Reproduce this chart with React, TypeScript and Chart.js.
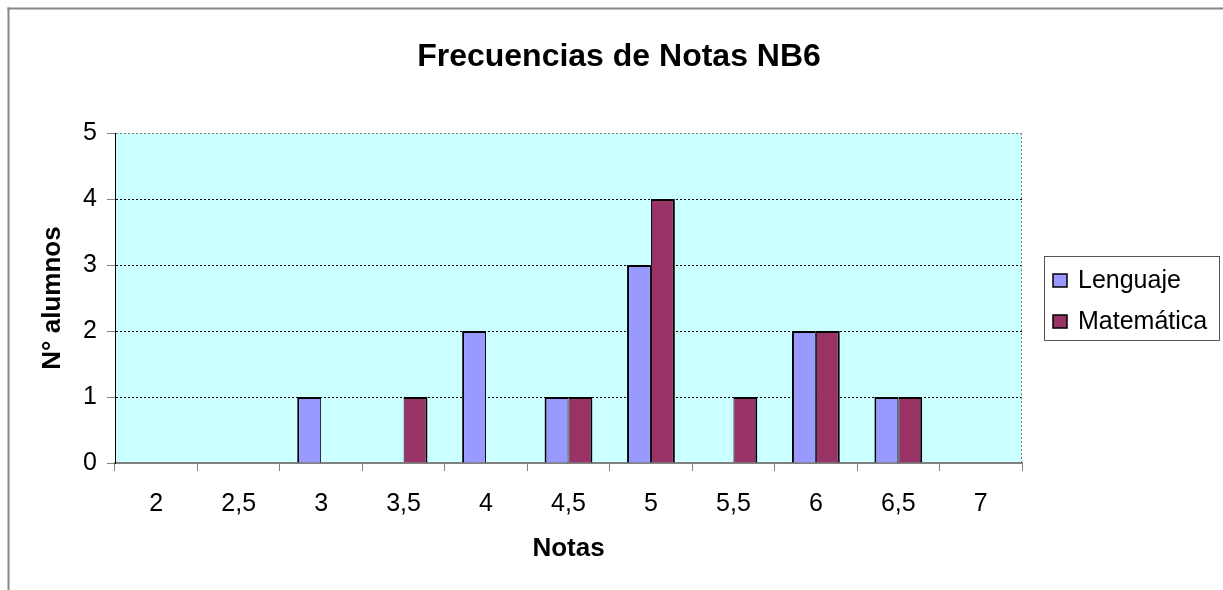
import React, { useEffect, useRef } from "react";
import { Chart, registerables } from "chart.js";

Chart.register(...registerables);

const categories = ["2", "2,5", "3", "3,5", "4", "4,5", "5", "5,5", "6", "6,5", "7"];
const lenguaje = [0, 0, 1, 0, 2, 1, 3, 0, 2, 1, 0];
const matematica = [0, 0, 0, 1, 0, 1, 4, 1, 2, 1, 0];
const seriesNames = ["Lenguaje", "Matemática"];
const seriesColors = ["#9999FF", "#993366"];
const yMin = 0;
const yMax = 5;
const yStep = 1;
const chartTitle = "Frecuencias de Notas NB6";
const xTitle = "Notas";
const yTitle = "N° alumnos";

const FONT = "'Liberation Sans', Arial, Helvetica, sans-serif";
const W = 1223;
const H = 590;

const decorPlugin = {
  id: "decor",
  beforeDraw(chart: any) {
    const { ctx, chartArea } = chart;
    ctx.save();
    ctx.fillStyle = "#ffffff";
    ctx.fillRect(0, 0, chart.width, chart.height);
    ctx.fillStyle = "#888888";
    ctx.fillRect(7.5, 7.5, chart.width - 7.5, 2);
    ctx.fillRect(7.5, 7.5, 2, chart.height - 7.5);
    ctx.fillStyle = "#CCFFFF";
    ctx.fillRect(chartArea.left, chartArea.top, chartArea.right - chartArea.left, chartArea.bottom - chartArea.top);
    ctx.restore();
  },
  beforeDatasetsDraw(chart: any) {
    const { ctx, chartArea } = chart;
    ctx.save();
    ctx.strokeStyle = "#808080";
    ctx.lineWidth = 1;
    ctx.setLineDash([2, 2]);
    ctx.beginPath();
    ctx.moveTo(Math.round(chartArea.right) - 0.5, chartArea.top);
    ctx.lineTo(Math.round(chartArea.right) - 0.5, chartArea.bottom);
    ctx.stroke();
    ctx.restore();
  },
  afterDraw(chart: any) {
    const { ctx } = chart;
    const bx = 1044, by = 256, bw = 175, bh = 84;
    ctx.save();
    ctx.fillStyle = "#ffffff";
    ctx.fillRect(bx, by, bw, bh);
    ctx.strokeStyle = "#555555";
    ctx.lineWidth = 1;
    ctx.strokeRect(bx + 0.5, by + 0.5, bw, bh);
    chart.data.datasets.forEach((ds: any, i: number) => {
      const cy = 281 + i * 41;
      ctx.fillStyle = ds.backgroundColor;
      ctx.fillRect(1053, cy - 7, 14, 13);
      ctx.strokeStyle = "#000000";
      ctx.lineWidth = 1.5;
      ctx.strokeRect(1053, cy - 7, 14, 13);
      ctx.fillStyle = "#000000";
      ctx.font = `25px ${FONT}`;
      ctx.textBaseline = "middle";
      ctx.textAlign = "left";
      ctx.fillText(ds.label, 1078, cy);
    });
    ctx.restore();
  },
};

export default function App() {
  const ref = useRef<HTMLCanvasElement | null>(null);

  useEffect(() => {
    if (!ref.current) return;
    const chart = new Chart(ref.current, {
      type: "bar",
      data: {
        labels: categories,
        datasets: [
          {
            label: seriesNames[0],
            data: lenguaje,
            backgroundColor: seriesColors[0],
            borderColor: "#000000",
            borderWidth: { left: 2, right: 1, top: 2, bottom: 0 },
            categoryPercentage: 0.58,
            barPercentage: 1,
          },
          {
            label: seriesNames[1],
            data: matematica,
            backgroundColor: seriesColors[1],
            borderColor: "#000000",
            borderWidth: { left: 1, right: 2, top: 2, bottom: 0 },
            categoryPercentage: 0.58,
            barPercentage: 1,
          },
        ],
      },
      options: {
        responsive: false,
        animation: false,
        devicePixelRatio: 1,
        layout: { padding: { left: 15, right: 0, top: 0, bottom: 0 } },
        plugins: {
          legend: { display: false },
          tooltip: { enabled: false },
          title: {
            display: true,
            text: chartTitle,
            color: "#000000",
            font: { family: FONT, size: 32, weight: "bold" },
            padding: { top: 37.8, bottom: 56.8 },
          },
        },
        scales: {
          x: {
            grid: {
              offset: true,
              drawOnChartArea: false,
              drawTicks: true,
              tickLength: 8,
              tickColor: "#808080",
              tickWidth: 1,
            },
            border: { display: true, color: "#808080", width: 2 },
            ticks: {
              color: "#000000",
              font: { family: FONT, size: 25 },
              padding: 18,
              maxRotation: 0,
              autoSkip: false,
            },
            title: {
              display: true,
              text: xTitle,
              color: "#000000",
              font: { family: FONT, size: 26, weight: "bold" },
              padding: { top: 0, bottom: 26 },
            },
            afterFit: (s: any) => {
              s.height = 127;
            },
          },
          y: {
            min: yMin,
            max: yMax,
            grid: {
              color: (c: any) => (c.tick && c.tick.value === yMax ? "#808080" : "#000000"),
              lineWidth: 1,
              drawTicks: true,
              tickLength: 8,
              tickColor: "#808080",
              tickWidth: 1,
            },
            border: { display: true, color: "#000000", width: 1, dash: [2, 2] },
            ticks: {
              stepSize: yStep,
              color: "#000000",
              font: { family: FONT, size: 25 },
              padding: 10,
            },
            title: {
              display: true,
              text: yTitle,
              color: "#000000",
              font: { family: FONT, size: 26, weight: "bold" },
              padding: { top: 22.4, bottom: 0 },
            },
            afterFit: (s: any) => {
              s.width = 100;
            },
          },
          spacer: {
            type: "linear",
            position: "right",
            display: true,
            grid: { display: false, drawTicks: false },
            ticks: { display: false },
            border: { display: false },
            afterFit: (s: any) => {
              s.width = 201;
            },
          },
        },
      } as any,
      plugins: [decorPlugin],
    });
    return () => chart.destroy();
  }, []);

  return (
    <div style={{ position: "fixed", left: 0, top: 0, width: W, height: H, background: "#fff" }}>
      <canvas ref={ref} width={W} height={H} style={{ display: "block", width: W, height: H }} />
    </div>
  );
}
